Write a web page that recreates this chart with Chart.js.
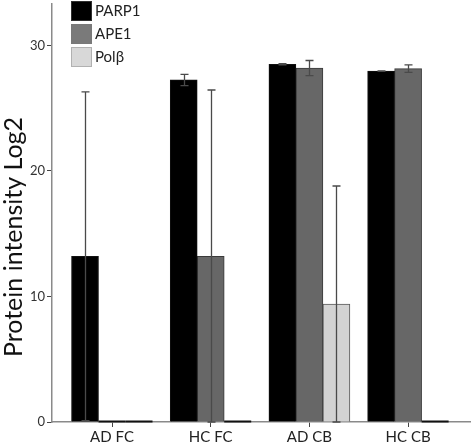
<!DOCTYPE html>
<html lang="en">
<head>
    <meta charset="UTF-8">
    <title>Protein intensity</title>
    <script src="https://cdn.jsdelivr.net/npm/chart.js"></script>
    <style>
        body {
            margin: 0;
            background-color: white;
        }
        canvas {
            display: block;
        }
    </style>
</head>
<body>
    <canvas id="proteinChart" width="472" height="444"></canvas>

    <script>
        // Values
        const categories = ['AD FC', 'HC FC', 'AD CB', 'HC CB'];
        const proteins = ['PARP1', 'APE1', 'Polβ'];
        const parp1 = [13.2, 27.25, 28.5, 27.95];
        const ape1 = [0, 13.2, 28.2, 28.15];
        const polb = [0, 0, 9.4, 0];
        const parp1Err = [13.1, 0.45, 0.05, 0.02];
        const ape1Err = [0, 13.25, 0.6, 0.3];
        const polbErr = [0, 0, 9.4, 0];
        const yTicks = [0, 10, 20, 30];

        const fontName = 'Lato, "Open Sans", sans-serif';

        function toPoints(values) {
            return values.map((v, i) => ({ x: i, y: v }));
        }

        // Error bars, zero-value marks, custom legend and y title
        const extrasPlugin = {
            id: 'extras',
            afterDatasetsDraw(chart) {
                const ctx = chart.ctx;
                const yScale = chart.scales.y;
                ctx.save();
                chart.data.datasets.forEach((ds, di) => {
                    const meta = chart.getDatasetMeta(di);
                    meta.data.forEach((bar, i) => {
                        const v = ds.data[i].y;
                        const err = ds.errors[i];
                        if (v === 0) {
                            ctx.strokeStyle = '#111';
                            ctx.lineWidth = 2;
                            ctx.beginPath();
                            ctx.moveTo(bar.x - bar.width / 2, yScale.getPixelForValue(0) - 0.5);
                            ctx.lineTo(bar.x + bar.width / 2, yScale.getPixelForValue(0) - 0.5);
                            ctx.stroke();
                        }
                        if (err > 0) {
                            const yTop = yScale.getPixelForValue(v + err);
                            const yBot = yScale.getPixelForValue(Math.max(0, v - err));
                            const x = Math.round(bar.x) + 0.5;
                            ctx.strokeStyle = '#4a4a4a';
                            ctx.lineWidth = 1.3;
                            ctx.beginPath();
                            ctx.moveTo(x, yTop);
                            ctx.lineTo(x, yBot);
                            ctx.moveTo(x - 4, yTop);
                            ctx.lineTo(x + 4, yTop);
                            ctx.moveTo(x - 4, yBot);
                            ctx.lineTo(x + 4, yBot);
                            ctx.stroke();
                        }
                    });
                });
                ctx.restore();
            },
            afterDraw(chart) {
                const ctx = chart.ctx;
                ctx.save();
                // legend
                ctx.font = '15px ' + fontName;
                ctx.textBaseline = 'middle';
                chart.data.datasets.forEach((ds, di) => {
                    const top = 1 + di * 23;
                    ctx.fillStyle = ds.legendColor;
                    ctx.fillRect(71, top, 21, 20);
                    ctx.strokeStyle = 'rgba(120,120,120,0.4)';
                    ctx.lineWidth = 1;
                    ctx.strokeRect(71.5, top + 0.5, 20, 19);
                    ctx.fillStyle = '#222';
                    ctx.fillText(ds.label, 95, top + 10.5);
                });
                // y axis title
                ctx.translate(14, 237);
                ctx.rotate(-Math.PI / 2);
                ctx.font = '25px ' + fontName;
                ctx.textAlign = 'center';
                ctx.textBaseline = 'middle';
                ctx.fillStyle = '#111';
                ctx.fillText('Protein intensity Log2', 0, 0);
                ctx.restore();
            }
        };

        const ctx = document.getElementById('proteinChart').getContext('2d');
        new Chart(ctx, {
            type: 'bar',
            data: {
                datasets: [
                    {
                        label: proteins[0],
                        data: toPoints(parp1),
                        errors: parp1Err,
                        backgroundColor: '#000000',
                        borderColor: '#111111',
                        legendColor: '#000000',
                        borderWidth: 1
                    },
                    {
                        label: proteins[1],
                        data: toPoints(ape1),
                        errors: ape1Err,
                        backgroundColor: '#676767',
                        borderColor: '#3a3a3a',
                        legendColor: '#7a7a7a',
                        borderWidth: 1
                    },
                    {
                        label: proteins[2],
                        data: toPoints(polb),
                        errors: polbErr,
                        backgroundColor: '#d3d3d3',
                        borderColor: '#5a5a5a',
                        legendColor: '#d8d8d8',
                        borderWidth: 1
                    }
                ]
            },
            options: {
                responsive: false,
                animation: false,
                devicePixelRatio: 1,
                barThickness: 27,
                layout: {
                    padding: { top: 4, right: 2, left: 0, bottom: 0 }
                },
                plugins: {
                    legend: { display: false },
                    tooltip: { enabled: false }
                },
                scales: {
                    x: {
                        type: 'linear',
                        min: -0.608,
                        max: 3.627,
                        offset: false,
                        grid: {
                            offset: false,
                            drawOnChartArea: false,
                            drawTicks: true,
                            tickLength: 5,
                            color: '#444'
                        },
                        border: { color: '#8a8a8a', width: 1.5 },
                        ticks: {
                            callback: v => categories[v],
                            font: { family: fontName, size: 15 },
                            color: '#222',
                            padding: 1,
                            maxRotation: 0
                        },
                        afterBuildTicks: s => { s.ticks = categories.map((c, i) => ({ value: i })); },
                        afterFit: s => { s.height = 22; s.paddingLeft = 0; s.paddingRight = 0; }
                    },
                    y: {
                        min: 0,
                        max: 33.3,
                        grid: {
                            drawOnChartArea: false,
                            drawTicks: true,
                            tickLength: 5,
                            color: '#444'
                        },
                        border: { color: '#8a8a8a', width: 1.5 },
                        ticks: {
                            font: { family: fontName, size: 13 },
                            color: '#333',
                            padding: 2
                        },
                        afterBuildTicks: s => { s.ticks = yTicks.map(v => ({ value: v })); },
                        afterFit: s => { s.width = 52; s.paddingTop = 0; s.paddingBottom = 0; }
                    }
                }
            },
            plugins: [extrasPlugin]
        });
    </script>
</body>
</html>
